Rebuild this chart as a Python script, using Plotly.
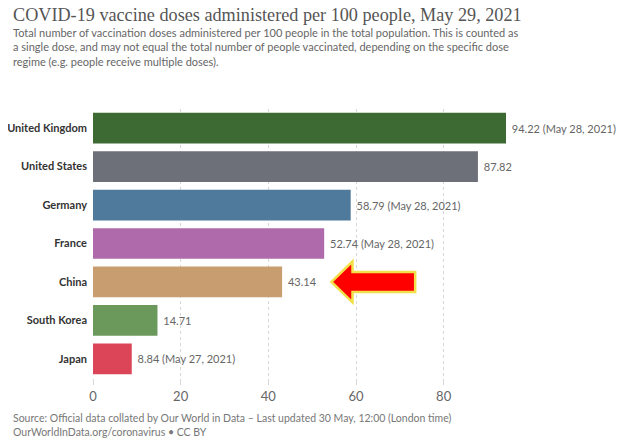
import plotly.graph_objects as go

countries = ["United Kingdom", "United States", "Germany", "France", "China", "South Korea", "Japan"]
values = [94.22, 87.82, 58.79, 52.74, 43.14, 14.71, 8.84]
label_texts = ["94.22 (May 28, 2021)", "87.82", "58.79 (May 28, 2021)", "52.74 (May 28, 2021)",
               "43.14", "14.71", "8.84 (May 27, 2021)"]
colors = ["#3d6a33", "#6d7079", "#4f7a9c", "#ae6aaa", "#c89d6f", "#6b995b", "#dc4458"]
x_ticks = [0, 20, 40, 60, 80]

fig = go.Figure()
fig.add_trace(go.Bar(
    x=values, y=countries, orientation="h",
    marker=dict(color=colors, line=dict(width=0)),
    text=label_texts, texttemplate=" %{text}", textposition="outside", cliponaxis=False,
    textfont=dict(family="Lato", size=11, color="#666666"),
    hoverinfo="skip",
))

# red arrow pointing at China
ci = countries.index("China")
tip = 54.4
head_base = 59.2
tail = 73.5
hh = 0.53
sh = 0.26
path = (f"M {tip},{ci} L {head_base},{ci-hh} L {head_base},{ci-sh} L {tail},{ci-sh} "
        f"L {tail},{ci+sh} L {head_base},{ci+sh} L {head_base},{ci+hh} Z")
fig.add_shape(type="path", path=path, xref="x", yref="y",
              fillcolor="#ff0000", line=dict(color="#f2e04a", width=2.5), layer="above")

L, R, T, B = 85, 18.5, 101, 70
PW, PH = 630 - L - R, 440 - T - B
fig.update_layout(
    width=630, height=440,
    margin=dict(l=L, r=R, t=T, b=B, autoexpand=False),
    paper_bgcolor="white", plot_bgcolor="white",
    bargap=0.2, showlegend=False,
    xaxis=dict(range=[0, 120], tickvals=x_ticks, showgrid=True, gridcolor="#d6d6d6",
               griddash="dot", gridwidth=1, zeroline=False, showline=False,
               ticks="outside", ticklen=6, tickcolor="#d6d6d6", automargin=False,
               tickfont=dict(family="Lato", size=13, color="#666666")),
    yaxis=dict(autorange="reversed", showgrid=False, showline=False, zeroline=False,
               ticks="", ticklabelstandoff=5, automargin=False,
               tickfont=dict(family="Lato", size=11, color="#333333", weight="bold")),
    font=dict(family="Lato"),
)

fig.add_annotation(xref="paper", yref="paper", x=-82/PW, y=1 + 106/PH, xanchor="left", yanchor="top",
                   text="COVID-19 vaccine doses administered per 100 people, May 29, 2021",
                   showarrow=False, align="left",
                   font=dict(family="Liberation Serif", size=18.2, color="#555555"))
fig.add_annotation(xref="paper", yref="paper", x=-82/PW, y=1 + 85/PH, xanchor="left", yanchor="top",
                   text=("Total number of vaccination doses administered per 100 people in the total population. This is counted as<br>"
                         "a single dose, and may not equal the total number of people vaccinated, depending on the specific dose<br>"
                         "regime (e.g. people receive multiple doses)."),
                   showarrow=False, align="left",
                   font=dict(family="Lato", size=11, color="#666666"))
fig.add_annotation(xref="paper", yref="paper", x=-82/PW, y=-32/PH, xanchor="left", yanchor="top",
                   text=("Source: Official data collated by Our World in Data – Last updated 30 May, 12:00 (London time)<br>"
                         "OurWorldInData.org/coronavirus • CC BY"),
                   showarrow=False, align="left",
                   font=dict(family="Lato", size=10.5, color="#777777"))

fig.write_html("out.html")
